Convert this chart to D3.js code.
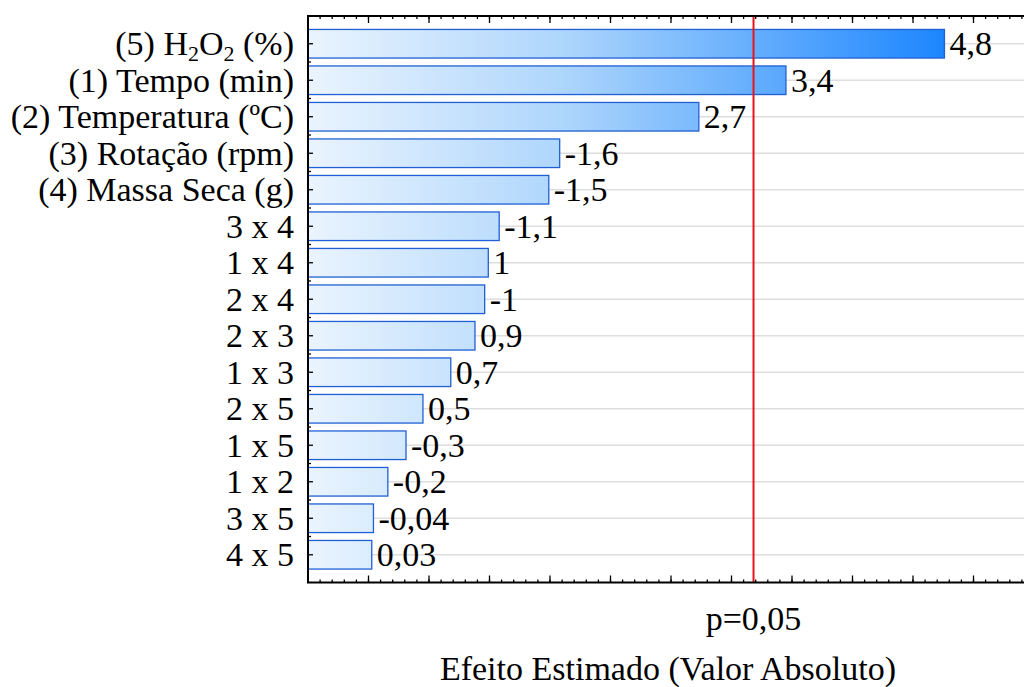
<!DOCTYPE html>
<html>
<head>
<meta charset="utf-8">
<script src="https://cdn.jsdelivr.net/npm/d3@7"></script>
<style>
  body { margin: 0; background: #fff; }
  svg { display: block; }
</style>
</head>
<body>
<div id="chart"></div>
<script>
// Factors, in the order shown (largest effect on top)
var factors = ["(5) H2O2 (%)", "(1) Tempo (min)", "(2) Temperatura (ºC)", "(3) Rotação (rpm)",
  "(4) Massa Seca (g)", "3 x 4", "1 x 4", "2 x 4", "2 x 3", "1 x 3", "2 x 5", "1 x 5",
  "1 x 2", "3 x 5", "4 x 5"];

// Standardized effects (sign kept, bars use absolute value)
var effects = [4.76, 3.45, 2.73, -1.58, -1.49, -1.08, 0.99, -0.96, 0.88, 0.68, 0.45, -0.31, -0.16, -0.041, 0.027];

// Labels printed at the end of each bar
var valueLabels = ["4,8", "3,4", "2,7", "-1,6", "-1,5", "-1,1", "1", "-1", "0,9", "0,7", "0,5", "-0,3", "-0,2", "-0,04", "0,03"];

var pCritical = 3.182;
var xDomain = [-0.5, 5.5];

var W = 1024, H = 687;
var plotLeft = 308, plotTop = 16, plotBottom = 582.5;
var plotRight = plotLeft + 6 * 121;
var FONT = "'Liberation Serif', 'DejaVu Serif', serif";
var FS = "34px";

var svg = d3.select("#chart").append("svg")
    .attr("width", W)
    .attr("height", H)
    .attr("font-family", FONT);

var x = d3.scaleLinear().domain(xDomain).range([plotLeft, plotRight]);
var y = d3.scalePoint().domain(factors).range([plotTop, plotBottom]).padding(0.76);
var barH = 28.6;

// gradient across the bars
var grad = svg.append("defs").append("linearGradient")
    .attr("id", "barGrad")
    .attr("gradientUnits", "userSpaceOnUse")
    .attr("x1", plotLeft).attr("x2", x(4.76))
    .attr("y1", 0).attr("y2", 0);
grad.append("stop").attr("offset", "0%").attr("stop-color", "#eaf4fe");
grad.append("stop").attr("offset", "40%").attr("stop-color", "#aed6fc");
grad.append("stop").attr("offset", "100%").attr("stop-color", "#1c86fe");

// horizontal gridlines
svg.append("g").selectAll("line")
    .data(factors)
  .enter().append("line")
    .attr("x1", plotLeft).attr("x2", W)
    .attr("y1", function(d) { return y(d); })
    .attr("y2", function(d) { return y(d); })
    .attr("stroke", "#dedede")
    .attr("stroke-width", 1.5);

// bars
svg.append("g").selectAll("rect")
    .data(effects)
  .enter().append("rect")
    .attr("x", x(xDomain[0]))
    .attr("y", function(d, i) { return y(factors[i]) - barH / 2; })
    .attr("width", function(d) { return x(Math.abs(d)) - x(xDomain[0]); })
    .attr("height", barH)
    .attr("fill", "url(#barGrad)")
    .attr("stroke", "#2160d4")
    .attr("stroke-width", 1.3);

// value labels
svg.append("g").selectAll("text")
    .data(effects)
  .enter().append("text")
    .attr("x", function(d) { return x(Math.abs(d)) + 5; })
    .attr("y", function(d, i) { return y(factors[i]); })
    .attr("dy", "0.34em")
    .attr("font-size", FS)
    .text(function(d, i) { return valueLabels[i]; });

// critical value line
svg.append("line")
    .attr("x1", x(pCritical)).attr("x2", x(pCritical))
    .attr("y1", plotTop).attr("y2", plotBottom)
    .attr("stroke", "#e8141a")
    .attr("stroke-width", 2);

// frame: left, top, bottom
var frame = svg.append("g").attr("stroke", "#000").attr("fill", "none");
frame.append("line").attr("x1", plotLeft).attr("x2", plotLeft).attr("y1", plotTop).attr("y2", plotBottom).attr("stroke-width", 2);
frame.append("line").attr("x1", plotLeft - 1).attr("x2", W).attr("y1", plotTop).attr("y2", plotTop).attr("stroke-width", 2);
frame.append("line").attr("x1", plotLeft - 1).attr("x2", W).attr("y1", plotBottom).attr("y2", plotBottom).attr("stroke-width", 2);

// inside ticks on top and bottom
var major = d3.range(0, 11).map(function(i) { return xDomain[0] + 0.5 + i * 0.5; });
var minor = d3.range(0, 60).map(function(i) { return xDomain[0] + i * 0.1; });

var tickG = svg.append("g").attr("stroke", "#000").attr("stroke-width", 1.3);
[plotTop, plotBottom].forEach(function(yy) {
  var dir = yy === plotTop ? 1 : -1;
  tickG.selectAll(null).data(minor).enter().append("line")
      .attr("x1", function(d) { return x(d); }).attr("x2", function(d) { return x(d); })
      .attr("y1", yy).attr("y2", yy + dir * 3);
  tickG.selectAll(null).data(major).enter().append("line")
      .attr("x1", function(d) { return x(d); }).attr("x2", function(d) { return x(d); })
      .attr("y1", yy).attr("y2", yy + dir * 7);
});

// left axis ticks (inside)
tickG.selectAll(null).data(factors).enter().append("line")
    .attr("x1", plotLeft).attr("x2", plotLeft + 5)
    .attr("y1", function(d) { return y(d); })
    .attr("y2", function(d) { return y(d); });
tickG.selectAll(null).data(factors.slice(1)).enter().append("line")
    .attr("x1", plotLeft).attr("x2", plotLeft + 3)
    .attr("y1", function(d) { return y(d) - y.step() / 2; })
    .attr("y2", function(d) { return y(d) - y.step() / 2; });

// category labels
var cat = svg.append("g").selectAll("text")
    .data(factors)
  .enter().append("text")
    .attr("x", plotLeft - 14)
    .attr("y", function(d) { return y(d); })
    .attr("dy", "0.34em")
    .attr("text-anchor", "end")
    .attr("font-size", FS);

cat.each(function(d) {
  var t = d3.select(this);
  if (d.indexOf("H2O2") >= 0) {
    t.append("tspan").text("(5) H");
    t.append("tspan").attr("font-size", "22px").attr("dy", "6").text("2");
    t.append("tspan").attr("dy", "-6").text("O");
    t.append("tspan").attr("font-size", "22px").attr("dy", "6").text("2");
    t.append("tspan").attr("dy", "-6").text(" (%)");
  } else {
    t.text(d);
  }
});

// p-value label under the critical line
svg.append("text")
    .attr("x", x(pCritical))
    .attr("y", 630)
    .attr("text-anchor", "middle")
    .attr("font-size", FS)
    .text("p=0,05");

// axis title
svg.append("text")
    .attr("x", 668)
    .attr("y", 680)
    .attr("text-anchor", "middle")
    .attr("font-size", FS)
    .text("Efeito Estimado (Valor Absoluto)");
</script>
</body>
</html>
